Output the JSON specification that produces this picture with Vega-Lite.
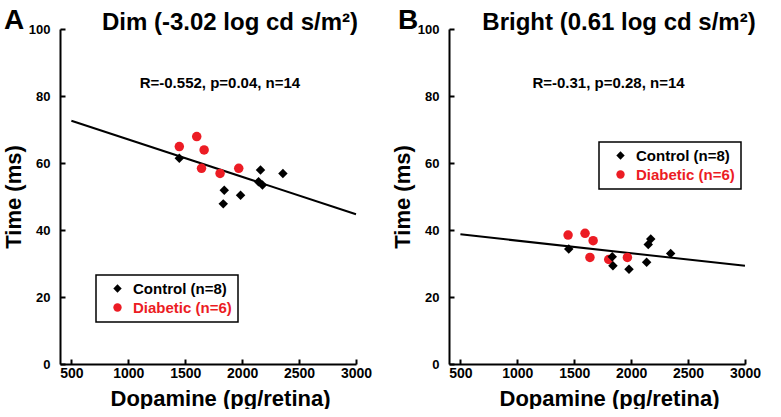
{
  "$schema": "https://vega.github.io/schema/vega-lite/v6.json",
  "padding": {"left": 2, "top": 7, "right": 0, "bottom": 0},
  "datasets": {
    "points": [
      {"panel": "A", "group": "Diabetic (n=6)", "dopamine": 1448, "time": 64.9},
      {"panel": "A", "group": "Diabetic (n=6)", "dopamine": 1601, "time": 67.9},
      {"panel": "A", "group": "Diabetic (n=6)", "dopamine": 1666, "time": 63.9},
      {"panel": "A", "group": "Diabetic (n=6)", "dopamine": 1643, "time": 58.4},
      {"panel": "A", "group": "Diabetic (n=6)", "dopamine": 1806, "time": 56.9},
      {"panel": "A", "group": "Diabetic (n=6)", "dopamine": 1970, "time": 58.4},
      {"panel": "A", "group": "Control (n=8)", "dopamine": 1448, "time": 61.4},
      {"panel": "A", "group": "Control (n=8)", "dopamine": 1843, "time": 51.9},
      {"panel": "A", "group": "Control (n=8)", "dopamine": 1834, "time": 47.8},
      {"panel": "A", "group": "Control (n=8)", "dopamine": 1986, "time": 50.4},
      {"panel": "A", "group": "Control (n=8)", "dopamine": 2161, "time": 57.9},
      {"panel": "A", "group": "Control (n=8)", "dopamine": 2144, "time": 54.4},
      {"panel": "A", "group": "Control (n=8)", "dopamine": 2178, "time": 53.4},
      {"panel": "A", "group": "Control (n=8)", "dopamine": 2358, "time": 56.9},
      {"panel": "B", "group": "Diabetic (n=6)", "dopamine": 1446, "time": 38.5},
      {"panel": "B", "group": "Diabetic (n=6)", "dopamine": 1595, "time": 39.0},
      {"panel": "B", "group": "Diabetic (n=6)", "dopamine": 1666, "time": 36.8},
      {"panel": "B", "group": "Diabetic (n=6)", "dopamine": 1638, "time": 31.8},
      {"panel": "B", "group": "Diabetic (n=6)", "dopamine": 1803, "time": 31.2},
      {"panel": "B", "group": "Diabetic (n=6)", "dopamine": 1967, "time": 31.8},
      {"panel": "B", "group": "Control (n=8)", "dopamine": 1452, "time": 34.3},
      {"panel": "B", "group": "Control (n=8)", "dopamine": 1834, "time": 32.0},
      {"panel": "B", "group": "Control (n=8)", "dopamine": 1840, "time": 29.3},
      {"panel": "B", "group": "Control (n=8)", "dopamine": 1981, "time": 28.3},
      {"panel": "B", "group": "Control (n=8)", "dopamine": 2136, "time": 30.4},
      {"panel": "B", "group": "Control (n=8)", "dopamine": 2150, "time": 35.7},
      {"panel": "B", "group": "Control (n=8)", "dopamine": 2172, "time": 37.3},
      {"panel": "B", "group": "Control (n=8)", "dopamine": 2347, "time": 33.0}
    ],
    "fits": [
      {"panel": "A", "dopamine": 500, "time": 72.6},
      {"panel": "A", "dopamine": 3000, "time": 44.7},
      {"panel": "B", "dopamine": 500, "time": 38.7},
      {"panel": "B", "dopamine": 3000, "time": 29.3}
    ],
    "panels": [
      {"panel": "A", "stat": "R=-0.552, p=0.04, n=14"},
      {"panel": "B", "stat": "R=-0.31, p=0.28, n=14"}
    ]
  },
  "spacing": 19,
  "resolve": {"legend": {"color": "independent", "shape": "independent"}},
  "hconcat": [
    {
      "width": 296,
      "height": 335,
      "title": {"text": "Dim (-3.02 log cd s/m²)"},
      "layer": [
        {
          "data": {"name": "fits"},
          "transform": [{"filter": "datum.panel === 'A'"}],
          "mark": {"type": "line", "color": "black", "strokeWidth": 2},
          "encoding": {
            "x": {"field": "dopamine", "type": "quantitative", "scale": {"domain": [500, 3000]}, "axis": {"title": "Dopamine (pg/retina)", "format": "d", "values": [500, 1000, 1500, 2000, 2500, 3000]}},
            "y": {"field": "time", "type": "quantitative", "scale": {"domain": [0, 100]}, "axis": {"title": "Time (ms)", "values": [0, 20, 40, 60, 80, 100]}}
          }
        },
        {
          "data": {"name": "points"},
          "transform": [{"filter": "datum.panel === 'A'"}],
          "mark": {"type": "point", "filled": true, "opacity": 1, "size": 90},
          "encoding": {
            "x": {"field": "dopamine", "type": "quantitative"},
            "y": {"field": "time", "type": "quantitative"},
            "color": {"field": "group", "type": "nominal", "scale": {"domain": ["Control (n=8)", "Diabetic (n=6)"], "range": ["black", "#ec1c24"]}, "title": null, "legend": {"orient": "none", "legendX": 36, "legendY": 246, "labelColor": {"expr": "datum.label === 'Diabetic (n=6)' ? '#ec1c24' : 'black'"}}},
            "shape": {"field": "group", "type": "nominal", "scale": {"domain": ["Control (n=8)", "Diabetic (n=6)"], "range": ["diamond", "circle"]}, "title": null, "legend": {"orient": "none", "legendX": 36, "legendY": 246, "labelColor": {"expr": "datum.label === 'Diabetic (n=6)' ? '#ec1c24' : 'black'"}}}
          }
        },
        {
          "data": {"name": "panels"},
          "transform": [{"filter": "datum.panel === 'A'"}],
          "mark": {"type": "text", "fontSize": 15, "fontWeight": "bold", "align": "center", "baseline": "alphabetic", "color": "black"},
          "encoding": {
            "x": {"datum": 1805, "type": "quantitative"},
            "y": {"datum": 82.5, "type": "quantitative"},
            "text": {"field": "stat"}
          }
        },
        {
          "data": {"name": "panels"},
          "transform": [{"filter": "datum.panel === 'A'"}],
          "mark": {"type": "text", "fontSize": 28, "fontWeight": "bold", "align": "left", "baseline": "alphabetic", "color": "black"},
          "encoding": {
            "x": {"datum": -91, "type": "quantitative"},
            "y": {"datum": 100, "type": "quantitative"},
            "text": {"field": "panel"}
          }
        }
      ]
    },
    {
      "width": 296,
      "height": 335,
      "title": {"text": "Bright (0.61 log cd s/m²)"},
      "layer": [
        {
          "data": {"name": "fits"},
          "transform": [{"filter": "datum.panel === 'B'"}],
          "mark": {"type": "line", "color": "black", "strokeWidth": 2},
          "encoding": {
            "x": {"field": "dopamine", "type": "quantitative", "scale": {"domain": [500, 3000]}, "axis": {"title": "Dopamine (pg/retina)", "format": "d", "values": [500, 1000, 1500, 2000, 2500, 3000]}},
            "y": {"field": "time", "type": "quantitative", "scale": {"domain": [0, 100]}, "axis": {"title": "Time (ms)", "values": [0, 20, 40, 60, 80, 100]}}
          }
        },
        {
          "data": {"name": "points"},
          "transform": [{"filter": "datum.panel === 'B'"}],
          "mark": {"type": "point", "filled": true, "opacity": 1, "size": 90},
          "encoding": {
            "x": {"field": "dopamine", "type": "quantitative"},
            "y": {"field": "time", "type": "quantitative"},
            "color": {"field": "group", "type": "nominal", "scale": {"domain": ["Control (n=8)", "Diabetic (n=6)"], "range": ["black", "#ec1c24"]}, "title": null, "legend": {"orient": "none", "legendX": 150, "legendY": 113, "labelColor": {"expr": "datum.label === 'Diabetic (n=6)' ? '#ec1c24' : 'black'"}}},
            "shape": {"field": "group", "type": "nominal", "scale": {"domain": ["Control (n=8)", "Diabetic (n=6)"], "range": ["diamond", "circle"]}, "title": null, "legend": {"orient": "none", "legendX": 150, "legendY": 113, "labelColor": {"expr": "datum.label === 'Diabetic (n=6)' ? '#ec1c24' : 'black'"}}}
          }
        },
        {
          "data": {"name": "panels"},
          "transform": [{"filter": "datum.panel === 'B'"}],
          "mark": {"type": "text", "fontSize": 15, "fontWeight": "bold", "align": "center", "baseline": "alphabetic", "color": "black"},
          "encoding": {
            "x": {"datum": 1801, "type": "quantitative"},
            "y": {"datum": 82.5, "type": "quantitative"},
            "text": {"field": "stat"}
          }
        },
        {
          "data": {"name": "panels"},
          "transform": [{"filter": "datum.panel === 'B'"}],
          "mark": {"type": "text", "fontSize": 28, "fontWeight": "bold", "align": "left", "baseline": "alphabetic", "color": "black"},
          "encoding": {
            "x": {"datum": -49, "type": "quantitative"},
            "y": {"datum": 100, "type": "quantitative"},
            "text": {"field": "panel"}
          }
        }
      ]
    }
  ],
  "config": {
    "font": "Liberation Sans",
    "view": {"stroke": null},
    "axis": {
      "grid": false,
      "domainColor": "black",
      "domainWidth": 2,
      "tickColor": "black",
      "tickWidth": 2,
      "tickSize": -5,
      "labelFont": "Liberation Sans",
      "labelFontWeight": "bold",
      "labelColor": "black",
      "labelFlush": false,
      "labelOverlap": false,
      "titleFont": "Liberation Sans",
      "titleFontWeight": "bold",
      "titleColor": "black",
      "titleFontSize": 22
    },
    "axisX": {"labelFontSize": 14, "labelPadding": 7, "titlePadding": 8, "titleX": 160},
    "axisY": {"labelFontSize": 13, "labelPadding": 15, "titlePadding": 3},
    "title": {"font": "Liberation Sans", "fontSize": 24, "fontWeight": "bold", "color": "black", "anchor": "middle", "frame": "group", "dx": 22, "offset": -28},
    "legend": {
      "labelFont": "Liberation Sans",
      "labelFontSize": 15,
      "labelFontWeight": "bold",
      "symbolSize": 70,
      "symbolStrokeWidth": 0,
      "strokeColor": "black",
      "strokeWidth": 1.5,
      "fillColor": "white",
      "padding": 6,
      "symbolOffset": 8,
      "labelOffset": 8,
      "rowPadding": 3,
      "cornerRadius": 0
    }
  }
}
